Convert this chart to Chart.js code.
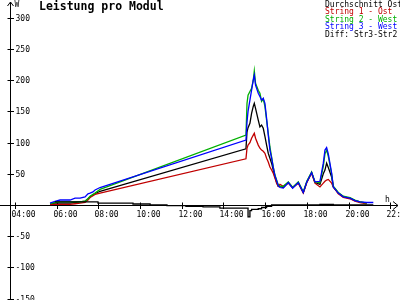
<!DOCTYPE html>
<html>
<head>
<meta charset="utf-8">
<script src="https://cdn.jsdelivr.net/npm/chart.js@4"></script>
<style>
  html, body { margin: 0; padding: 0; background: #fff; }
  #wrap { width: 400px; height: 300px; }
</style>
</head>
<body>
<div id="wrap"><canvas id="chart" width="400" height="300"></canvas></div>
<script>
// time of day in hours
var hours = [5.68, 5.92, 6.16, 6.40, 6.64, 6.88, 7.12, 7.36, 7.50, 7.60, 7.74, 7.84, 8.08,
    15.08, 15.13, 15.18, 15.27, 15.35, 15.43, 15.48, 15.54, 15.67, 15.75, 15.83, 15.91, 15.99,
    16.07, 16.15, 16.23, 16.31, 16.39, 16.47, 16.55, 16.63, 16.71, 16.87, 17.11, 17.32, 17.59,
    17.83, 18.00, 18.23, 18.39, 18.63, 18.79, 18.87, 18.95, 19.03, 19.19, 19.27, 19.51, 19.75,
    20.07, 20.31, 20.55, 20.87, 21.19];

// W per module
var durchschnitt = [2, 3, 3, 3, 3, 4, 5, 6, 10, 13, 16, 18, 22,
    90, 117, 124, 131, 147, 158, 163, 155, 136, 125, 128, 123, 110, 96, 83, 75, 67, 56, 45, 37, 30,
    30, 28, 36, 28, 36, 20, 37, 52, 36, 33, 50, 56, 67, 60, 45, 29, 19, 13, 11, 7, 5, 3, null];
var string1 = [0.5, 1, 1, 1, 1, 2, 3, 4, 8, 12, 15, 17, 19,
    74, 91, 96, 100, 107, 112, 115, 107, 96, 91, 88, 86, 83, 75, 69, 61, 56, 51, 43, 35, 30,
    33, 30, 35, 28, 35, 19, 36, 51, 35, 29, 35, 38, 40, 41, 35, 29, 18, 12, 10, 6, 4, 2, null];
var string2 = [2, 4, 5, 5, 5, 5, 5, 6, 10, 14, 17, 19, 25,
    112, 163, 176, 182, 187, 200, 215, 195, 184, 179, 166, 170, 158, 136, 115, 93, 77, 61, 48, 40, 32,
    30, 30, 37, 28, 37, 21, 38, 53, 37, 36, 62, 82, 88, 78, 50, 30, 20, 14, 12, 8, 5, 3, null];
var string3 = [3, 6, 8, 8, 8, 11, 11, 13, 18, 19, 21, 24, 28,
    104, 133, 150, 168, 184, 200, 208, 192, 179, 174, 168, 171, 163, 139, 112, 88, 75, 60, 47, 39, 31,
    28, 27, 36, 27, 36, 20, 37, 52, 37, 38, 67, 88, 92, 82, 51, 29, 19, 13, 11, 7, 5, 4, 4];

// Str3 - Str2, held until the next reading
var diffHours = [5.92, 7.98, 9.66, 10.48, 11.29, 12.20, 13.02, 13.83, 15.08, 15.18, 15.27, 15.35,
    15.67, 15.83, 16.07, 16.31, 18.63, 19.27, 21.19];
var diffValues = [5, 3, 1.6, 0, -1, -2, -3, -5, -5, -19, -9, -7, -6, -4, -2, 0, 1, 0, 0];

var xTicks = [4, 6, 8, 10, 12, 14, 16, 18, 20, 22];
var xTickLabels = ['04:00', '06:00', '08:00', '10:00', '12:00', '14:00', '16:00', '18:00', '20:00', '22:00'];
var yTicks = [-150, -100, -50, 50, 100, 150, 200, 250, 300];

var title = 'Leistung pro Modul';

function pts(xs, ys) {
    return xs.map(function(h, i) { return { x: h, y: ys[i] }; });
}

var mono = '"DejaVu Sans Mono", "Liberation Mono", monospace';

var axesPlugin = {
    id: 'axes',
    beforeDatasetsDraw: function(chart) {
        var ctx = chart.ctx;
        var sx = chart.scales.x, sy = chart.scales.y;
        var ax = sx.getPixelForValue(3.76);
        var ay = Math.round(sy.getPixelForValue(0)) + 0.5;
        ctx.save();
        ctx.strokeStyle = '#000';
        ctx.fillStyle = '#000';
        ctx.lineWidth = 1;
        ax = Math.round(ax) + 0.5;

        // y axis with arrow
        ctx.beginPath();
        ctx.moveTo(ax, 300);
        ctx.lineTo(ax, 2);
        ctx.moveTo(ax - 3, 6);
        ctx.lineTo(ax, 2);
        ctx.lineTo(ax + 3, 6);
        // x axis with arrow
        ctx.moveTo(0, ay);
        ctx.lineTo(398, ay);
        ctx.moveTo(393, ay - 4);
        ctx.lineTo(398, ay);
        ctx.lineTo(393, ay + 4);
        ctx.stroke();

        ctx.font = '8px ' + mono;
        ctx.textBaseline = 'middle';
        ctx.textAlign = 'left';
        yTicks.forEach(function(v) {
            var py = Math.round(sy.getPixelForValue(v)) + 0.5;
            ctx.beginPath();
            ctx.moveTo(ax - 3, py);
            ctx.lineTo(ax + 3.5, py);
            ctx.stroke();
            ctx.fillText(String(v), ax + 5, py);
        });
        ctx.textBaseline = 'top';
        xTicks.forEach(function(v, i) {
            var px = Math.round(sx.getPixelForValue(v)) + 0.5;
            ctx.beginPath();
            ctx.moveTo(px, ay - 3);
            ctx.lineTo(px, ay + 3.5);
            ctx.stroke();
            ctx.fillText(xTickLabels[i], px - 4, ay + 5);
        });
        ctx.fillText('W', ax + 4, 1);
        ctx.fillText('h', 385, ay - 10);
        ctx.restore();
    },
    afterDraw: function(chart) {
        var ctx = chart.ctx;
        ctx.save();
        ctx.textAlign = 'left';
        ctx.textBaseline = 'top';
        ctx.fillStyle = '#000';
        ctx.font = 'bold 11.5px ' + mono;
        ctx.fillText(title, 39, 1);

        // legend, top right
        ctx.font = '8px ' + mono;
        var order = [0, 1, 2, 3, 4];
        order.forEach(function(i, row) {
            var ds = chart.data.datasets[i];
            ctx.fillStyle = ds.borderColor;
            ctx.fillText(ds.label, 325, 0.5 + row * 7.5);
        });
        ctx.restore();
    }
};

var ctx = document.getElementById('chart').getContext('2d');
var chart = new Chart(ctx, {
    type: 'line',
    data: {
        datasets: [
            { label: 'Durchschnitt Ost', data: pts(hours, durchschnitt), borderColor: '#000000', order: 4 },
            { label: 'String 1 - Ost', data: pts(hours, string1), borderColor: '#c00000', order: 3 },
            { label: 'String 2 - West', data: pts(hours, string2), borderColor: '#00b000', order: 2 },
            { label: 'String 3 - West', data: pts(hours, string3), borderColor: '#0000ff', order: 1 },
            { label: 'Diff: Str3-Str2', data: pts(diffHours, diffValues), borderColor: '#000000', stepped: true, order: 0 }
        ]
    },
    options: {
        responsive: false,
        animation: false,
        layout: { padding: 0 },
        plugins: {
            legend: { display: false },
            title: { display: false },
            tooltip: { enabled: false }
        },
        elements: {
            point: { radius: 0 },
            line: { borderWidth: 1.3, tension: 0, fill: false }
        },
        scales: {
            x: { type: 'linear', min: 3.28, max: 22.47, display: false },
            y: { type: 'linear', min: -152.3, max: 328.6, display: false }
        }
    },
    plugins: [axesPlugin]
});
</script>
</body>
</html>
